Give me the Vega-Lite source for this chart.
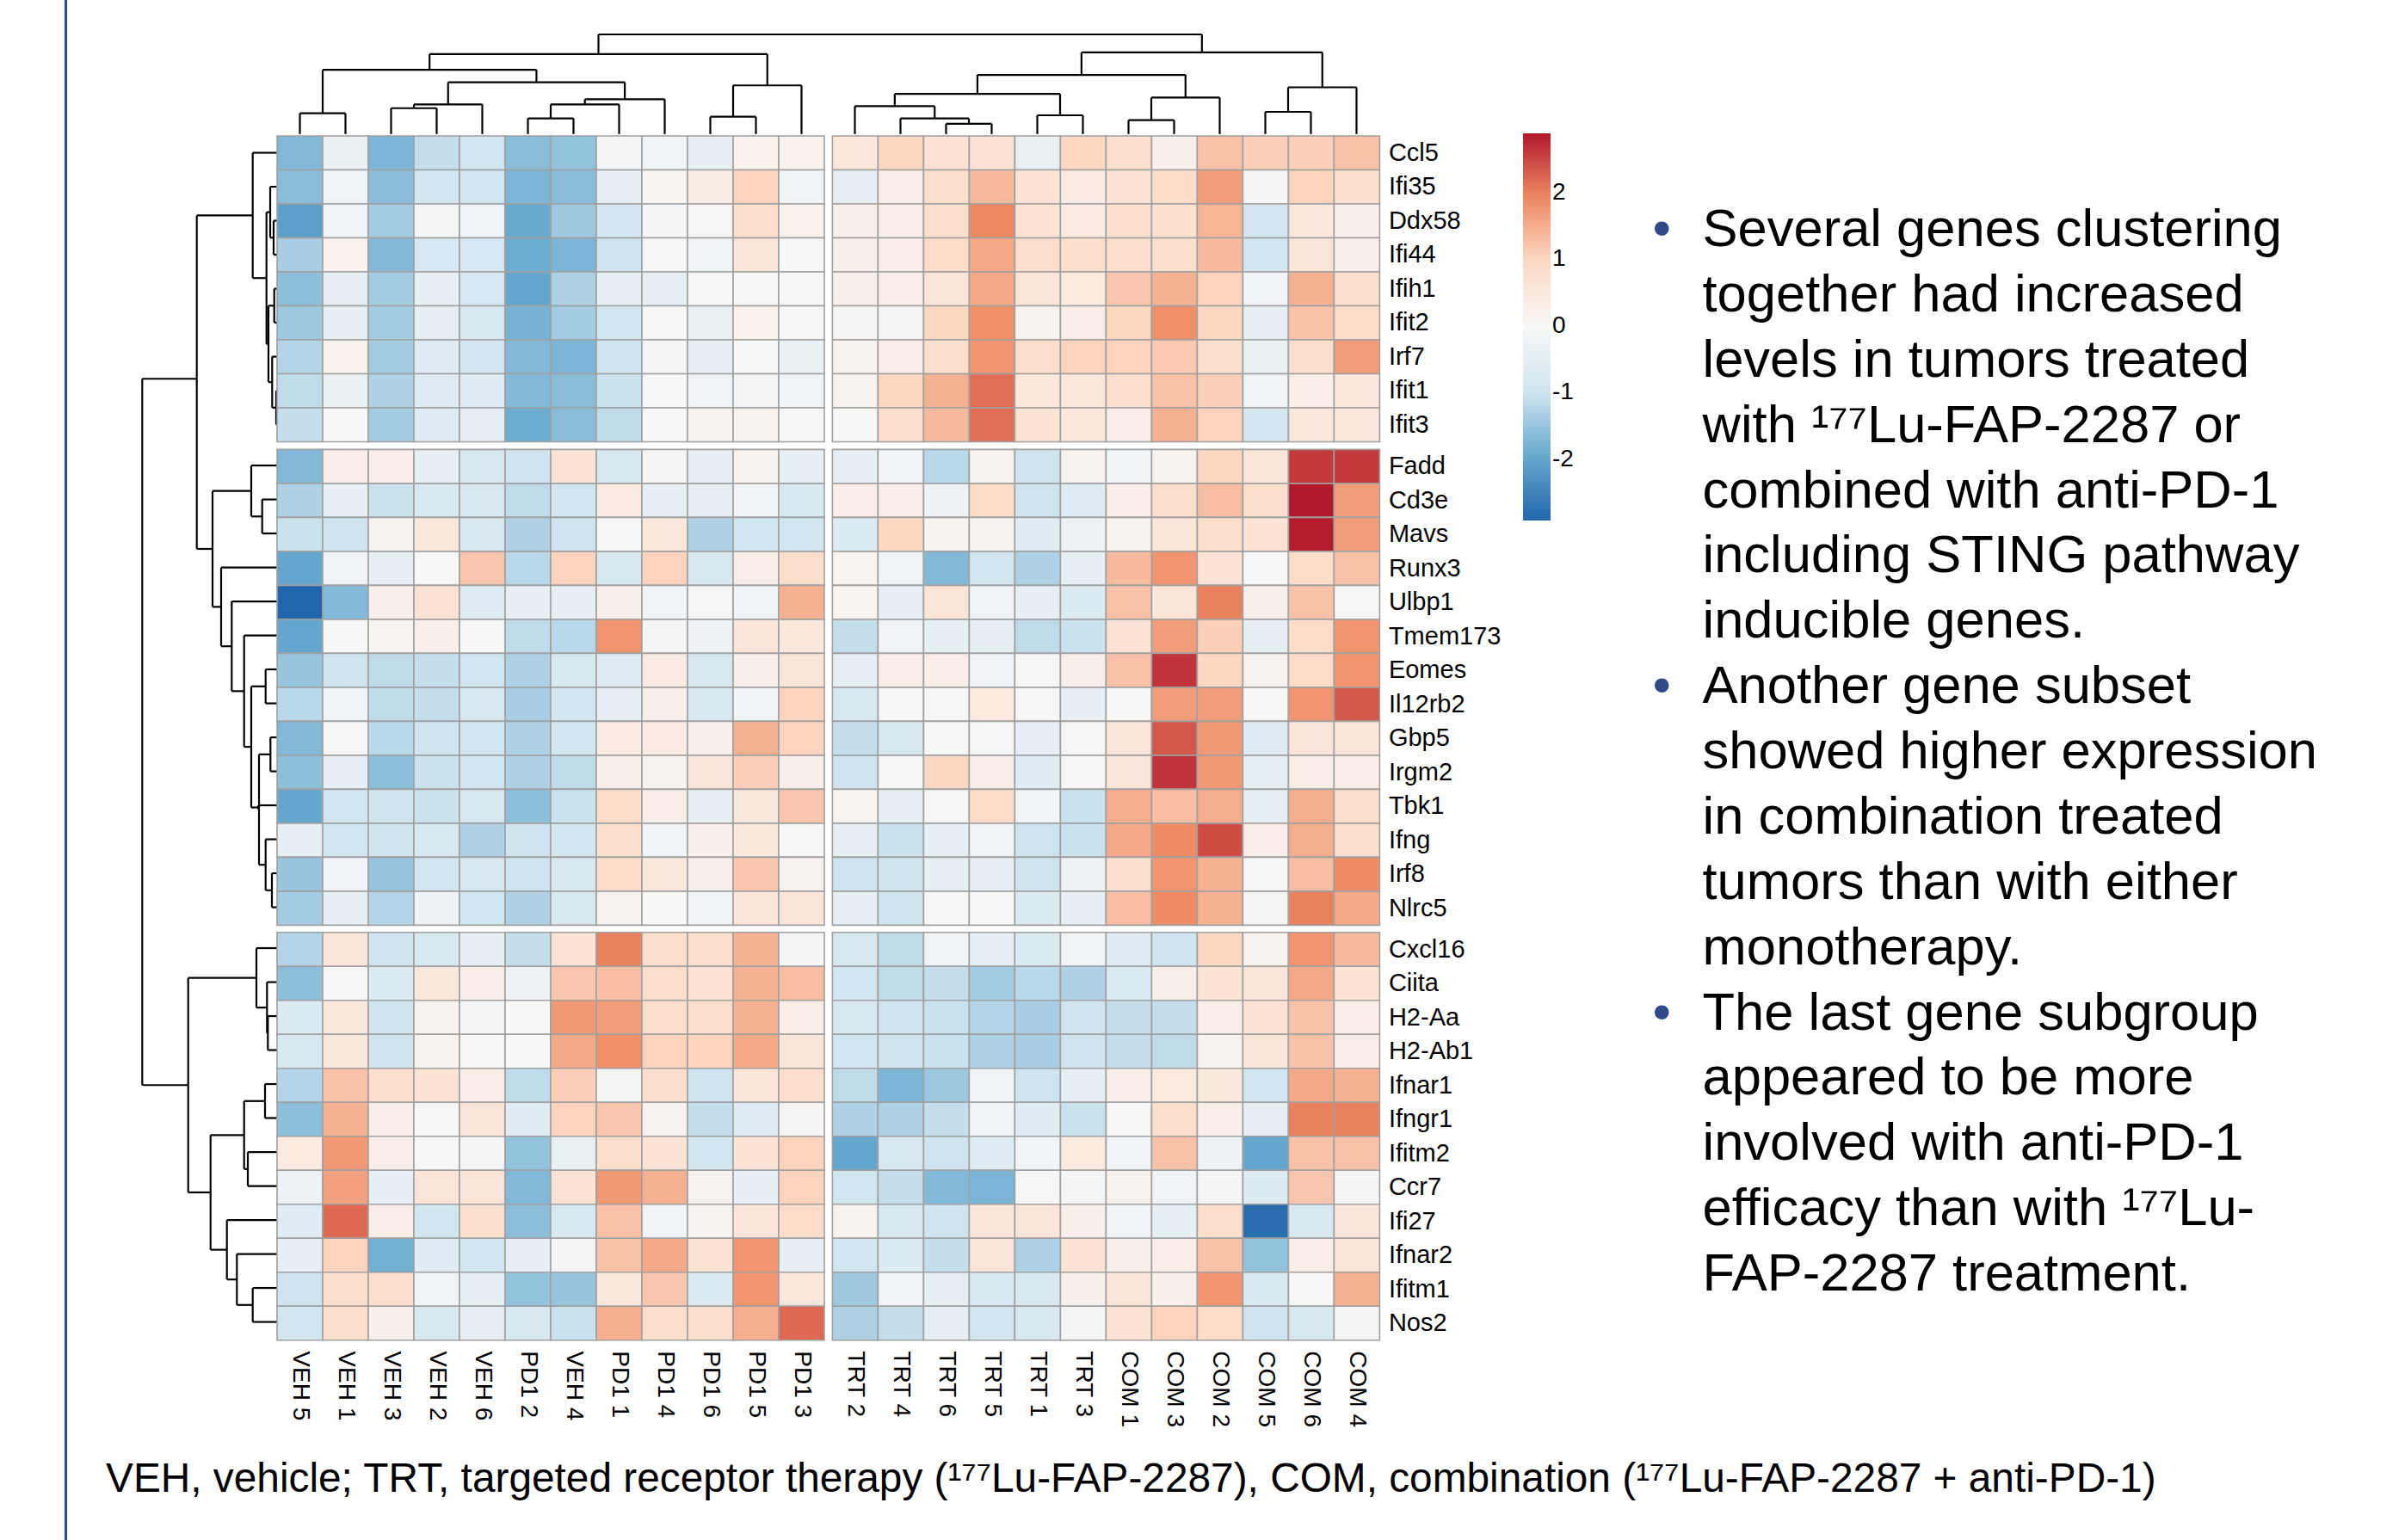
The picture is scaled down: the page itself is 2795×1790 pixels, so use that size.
{
"$schema": "https://vega.github.io/schema/vega-lite/v6.json",
"background": "white",
"padding": {"left": 75, "top": 0, "right": 0, "bottom": 0},
"bounds": "flush",
"spacing": 0,
"title": {"text": "VEH, vehicle; TRT, targeted receptor therapy (¹⁷⁷Lu-FAP-2287), COM, combination (¹⁷⁷Lu-FAP-2287 + anti-PD-1)", "orient": "bottom", "anchor": "start", "frame": "group", "offset": -56, "dx": 48, "fontSize": 47.8, "fontWeight": "normal", "font": "Liberation Sans", "color": "#000000", "baseline": "alphabetic"},
"config": {
  "view": {"stroke": null},
  "font": "Liberation Sans",
  "axis": {"labelFont": "Liberation Sans", "labelColor": "#000000", "ticks": false, "domain": false, "grid": false},
  "legend": {"orient": "none", "legendX": 1695, "legendY": 155, "direction": "vertical", "gradientLength": 450, "gradientThickness": 32, "gradientStrokeWidth": 0, "labelFontSize": 28, "labelFont": "Liberation Sans", "labelColor": "#000000", "labelOffset": 11, "padding": 0}
},
"datasets": {
"cells": [
{"g":"Ccl5","s":"VEH 5","v":-1.7},{"g":"Ccl5","s":"VEH 1","v":-0.4},{"g":"Ccl5","s":"VEH 3","v":-1.75},{"g":"Ccl5","s":"VEH 2","v":-1.1},{"g":"Ccl5","s":"VEH 6","v":-0.95},{"g":"Ccl5","s":"PD1 2","v":-1.65},{"g":"Ccl5","s":"VEH 4","v":-1.55},{"g":"Ccl5","s":"PD1 1","v":-0.1},{"g":"Ccl5","s":"PD1 4","v":-0.25},{"g":"Ccl5","s":"PD1 6","v":-0.45},{"g":"Ccl5","s":"PD1 5","v":0.2},{"g":"Ccl5","s":"PD1 3","v":0.2},
{"g":"Ccl5","s":"TRT 2","v":0.55},{"g":"Ccl5","s":"TRT 4","v":1.0},{"g":"Ccl5","s":"TRT 6","v":0.7},{"g":"Ccl5","s":"TRT 5","v":0.7},{"g":"Ccl5","s":"TRT 1","v":-0.4},{"g":"Ccl5","s":"TRT 3","v":1.0},{"g":"Ccl5","s":"COM 1","v":0.85},{"g":"Ccl5","s":"COM 3","v":0.25},{"g":"Ccl5","s":"COM 2","v":1.25},{"g":"Ccl5","s":"COM 5","v":1.1},{"g":"Ccl5","s":"COM 6","v":1.1},{"g":"Ccl5","s":"COM 4","v":1.25},
{"g":"Ifi35","s":"VEH 5","v":-1.65},{"g":"Ifi35","s":"VEH 1","v":-0.25},{"g":"Ifi35","s":"VEH 3","v":-1.65},{"g":"Ifi35","s":"VEH 2","v":-0.95},{"g":"Ifi35","s":"VEH 6","v":-0.95},{"g":"Ifi35","s":"PD1 2","v":-1.75},{"g":"Ifi35","s":"VEH 4","v":-1.65},{"g":"Ifi35","s":"PD1 1","v":-0.45},{"g":"Ifi35","s":"PD1 4","v":0.1},{"g":"Ifi35","s":"PD1 6","v":0.35},{"g":"Ifi35","s":"PD1 5","v":1.05},{"g":"Ifi35","s":"PD1 3","v":-0.2},
{"g":"Ifi35","s":"TRT 2","v":-0.5},{"g":"Ifi35","s":"TRT 4","v":0.3},{"g":"Ifi35","s":"TRT 6","v":0.85},{"g":"Ifi35","s":"TRT 5","v":1.35},{"g":"Ifi35","s":"TRT 1","v":0.65},{"g":"Ifi35","s":"TRT 3","v":0.4},{"g":"Ifi35","s":"COM 1","v":0.65},{"g":"Ifi35","s":"COM 3","v":0.9},{"g":"Ifi35","s":"COM 2","v":1.7},{"g":"Ifi35","s":"COM 5","v":-0.1},{"g":"Ifi35","s":"COM 6","v":1.05},{"g":"Ifi35","s":"COM 4","v":0.75},
{"g":"Ddx58","s":"VEH 5","v":-2.1},{"g":"Ddx58","s":"VEH 1","v":-0.25},{"g":"Ddx58","s":"VEH 3","v":-1.4},{"g":"Ddx58","s":"VEH 2","v":-0.1},{"g":"Ddx58","s":"VEH 6","v":-0.25},{"g":"Ddx58","s":"PD1 2","v":-1.95},{"g":"Ddx58","s":"VEH 4","v":-1.45},{"g":"Ddx58","s":"PD1 1","v":-0.9},{"g":"Ddx58","s":"PD1 4","v":-0.1},{"g":"Ddx58","s":"PD1 6","v":-0.05},{"g":"Ddx58","s":"PD1 5","v":0.85},{"g":"Ddx58","s":"PD1 3","v":0.2},
{"g":"Ddx58","s":"TRT 2","v":0.25},{"g":"Ddx58","s":"TRT 4","v":0.3},{"g":"Ddx58","s":"TRT 6","v":0.85},{"g":"Ddx58","s":"TRT 5","v":1.95},{"g":"Ddx58","s":"TRT 1","v":0.65},{"g":"Ddx58","s":"TRT 3","v":0.4},{"g":"Ddx58","s":"COM 1","v":0.75},{"g":"Ddx58","s":"COM 3","v":0.75},{"g":"Ddx58","s":"COM 2","v":1.4},{"g":"Ddx58","s":"COM 5","v":-0.9},{"g":"Ddx58","s":"COM 6","v":0.55},{"g":"Ddx58","s":"COM 4","v":0.25},
{"g":"Ifi44","s":"VEH 5","v":-1.35},{"g":"Ifi44","s":"VEH 1","v":0.2},{"g":"Ifi44","s":"VEH 3","v":-1.7},{"g":"Ifi44","s":"VEH 2","v":-0.85},{"g":"Ifi44","s":"VEH 6","v":-0.85},{"g":"Ifi44","s":"PD1 2","v":-1.9},{"g":"Ifi44","s":"VEH 4","v":-1.75},{"g":"Ifi44","s":"PD1 1","v":-1.0},{"g":"Ifi44","s":"PD1 4","v":-0.05},{"g":"Ifi44","s":"PD1 6","v":-0.25},{"g":"Ifi44","s":"PD1 5","v":0.6},{"g":"Ifi44","s":"PD1 3","v":0.0},
{"g":"Ifi44","s":"TRT 2","v":0.25},{"g":"Ifi44","s":"TRT 4","v":0.3},{"g":"Ifi44","s":"TRT 6","v":0.9},{"g":"Ifi44","s":"TRT 5","v":1.55},{"g":"Ifi44","s":"TRT 1","v":0.85},{"g":"Ifi44","s":"TRT 3","v":0.85},{"g":"Ifi44","s":"COM 1","v":0.85},{"g":"Ifi44","s":"COM 3","v":0.85},{"g":"Ifi44","s":"COM 2","v":1.35},{"g":"Ifi44","s":"COM 5","v":-0.95},{"g":"Ifi44","s":"COM 6","v":0.6},{"g":"Ifi44","s":"COM 4","v":0.25},
{"g":"Ifih1","s":"VEH 5","v":-1.6},{"g":"Ifih1","s":"VEH 1","v":-0.5},{"g":"Ifih1","s":"VEH 3","v":-1.4},{"g":"Ifih1","s":"VEH 2","v":-0.45},{"g":"Ifih1","s":"VEH 6","v":-0.85},{"g":"Ifih1","s":"PD1 2","v":-2.0},{"g":"Ifih1","s":"VEH 4","v":-1.3},{"g":"Ifih1","s":"PD1 1","v":-0.45},{"g":"Ifih1","s":"PD1 4","v":-0.5},{"g":"Ifih1","s":"PD1 6","v":-0.05},{"g":"Ifih1","s":"PD1 5","v":-0.05},{"g":"Ifih1","s":"PD1 3","v":-0.05},
{"g":"Ifih1","s":"TRT 2","v":0.25},{"g":"Ifih1","s":"TRT 4","v":0.3},{"g":"Ifih1","s":"TRT 6","v":0.6},{"g":"Ifih1","s":"TRT 5","v":1.55},{"g":"Ifih1","s":"TRT 1","v":0.6},{"g":"Ifih1","s":"TRT 3","v":0.45},{"g":"Ifih1","s":"COM 1","v":1.2},{"g":"Ifih1","s":"COM 3","v":1.45},{"g":"Ifih1","s":"COM 2","v":1.05},{"g":"Ifih1","s":"COM 5","v":-0.2},{"g":"Ifih1","s":"COM 6","v":1.45},{"g":"Ifih1","s":"COM 4","v":0.85},
{"g":"Ifit2","s":"VEH 5","v":-1.45},{"g":"Ifit2","s":"VEH 1","v":-0.45},{"g":"Ifit2","s":"VEH 3","v":-1.4},{"g":"Ifit2","s":"VEH 2","v":-0.5},{"g":"Ifit2","s":"VEH 6","v":-0.8},{"g":"Ifit2","s":"PD1 2","v":-1.8},{"g":"Ifit2","s":"VEH 4","v":-1.4},{"g":"Ifit2","s":"PD1 1","v":-0.95},{"g":"Ifit2","s":"PD1 4","v":-0.05},{"g":"Ifit2","s":"PD1 6","v":-0.4},{"g":"Ifit2","s":"PD1 5","v":0.2},{"g":"Ifit2","s":"PD1 3","v":-0.05},
{"g":"Ifit2","s":"TRT 2","v":0.05},{"g":"Ifit2","s":"TRT 4","v":0.05},{"g":"Ifit2","s":"TRT 6","v":1.0},{"g":"Ifit2","s":"TRT 5","v":1.85},{"g":"Ifit2","s":"TRT 1","v":0.15},{"g":"Ifit2","s":"TRT 3","v":0.3},{"g":"Ifit2","s":"COM 1","v":1.0},{"g":"Ifit2","s":"COM 3","v":1.85},{"g":"Ifit2","s":"COM 2","v":1.0},{"g":"Ifit2","s":"COM 5","v":-0.5},{"g":"Ifit2","s":"COM 6","v":1.25},{"g":"Ifit2","s":"COM 4","v":0.9},
{"g":"Irf7","s":"VEH 5","v":-1.25},{"g":"Irf7","s":"VEH 1","v":0.2},{"g":"Irf7","s":"VEH 3","v":-1.4},{"g":"Irf7","s":"VEH 2","v":-0.6},{"g":"Irf7","s":"VEH 6","v":-0.9},{"g":"Irf7","s":"PD1 2","v":-1.7},{"g":"Irf7","s":"VEH 4","v":-1.75},{"g":"Irf7","s":"PD1 1","v":-1.0},{"g":"Irf7","s":"PD1 4","v":-0.15},{"g":"Irf7","s":"PD1 6","v":-0.45},{"g":"Irf7","s":"PD1 5","v":-0.05},{"g":"Irf7","s":"PD1 3","v":-0.35},
{"g":"Irf7","s":"TRT 2","v":0.15},{"g":"Irf7","s":"TRT 4","v":0.3},{"g":"Irf7","s":"TRT 6","v":0.85},{"g":"Irf7","s":"TRT 5","v":1.8},{"g":"Irf7","s":"TRT 1","v":0.85},{"g":"Irf7","s":"TRT 3","v":1.05},{"g":"Irf7","s":"COM 1","v":1.05},{"g":"Irf7","s":"COM 3","v":1.15},{"g":"Irf7","s":"COM 2","v":0.85},{"g":"Irf7","s":"COM 5","v":-0.4},{"g":"Irf7","s":"COM 6","v":0.85},{"g":"Irf7","s":"COM 4","v":1.7},
{"g":"Ifit1","s":"VEH 5","v":-1.15},{"g":"Ifit1","s":"VEH 1","v":-0.35},{"g":"Ifit1","s":"VEH 3","v":-1.3},{"g":"Ifit1","s":"VEH 2","v":-0.6},{"g":"Ifit1","s":"VEH 6","v":-0.6},{"g":"Ifit1","s":"PD1 2","v":-1.7},{"g":"Ifit1","s":"VEH 4","v":-1.65},{"g":"Ifit1","s":"PD1 1","v":-1.05},{"g":"Ifit1","s":"PD1 4","v":-0.05},{"g":"Ifit1","s":"PD1 6","v":-0.25},{"g":"Ifit1","s":"PD1 5","v":-0.15},{"g":"Ifit1","s":"PD1 3","v":-0.2},
{"g":"Ifit1","s":"TRT 2","v":0.15},{"g":"Ifit1","s":"TRT 4","v":1.0},{"g":"Ifit1","s":"TRT 6","v":1.45},{"g":"Ifit1","s":"TRT 5","v":2.15},{"g":"Ifit1","s":"TRT 1","v":0.55},{"g":"Ifit1","s":"TRT 3","v":0.55},{"g":"Ifit1","s":"COM 1","v":0.75},{"g":"Ifit1","s":"COM 3","v":1.25},{"g":"Ifit1","s":"COM 2","v":1.1},{"g":"Ifit1","s":"COM 5","v":-0.2},{"g":"Ifit1","s":"COM 6","v":0.3},{"g":"Ifit1","s":"COM 4","v":0.55},
{"g":"Ifit3","s":"VEH 5","v":-1.1},{"g":"Ifit3","s":"VEH 1","v":0.0},{"g":"Ifit3","s":"VEH 3","v":-1.4},{"g":"Ifit3","s":"VEH 2","v":-0.6},{"g":"Ifit3","s":"VEH 6","v":-0.5},{"g":"Ifit3","s":"PD1 2","v":-1.9},{"g":"Ifit3","s":"VEH 4","v":-1.65},{"g":"Ifit3","s":"PD1 1","v":-1.15},{"g":"Ifit3","s":"PD1 4","v":-0.05},{"g":"Ifit3","s":"PD1 6","v":0.15},{"g":"Ifit3","s":"PD1 5","v":0.15},{"g":"Ifit3","s":"PD1 3","v":-0.05},
{"g":"Ifit3","s":"TRT 2","v":0.0},{"g":"Ifit3","s":"TRT 4","v":0.85},{"g":"Ifit3","s":"TRT 6","v":1.35},{"g":"Ifit3","s":"TRT 5","v":2.15},{"g":"Ifit3","s":"TRT 1","v":0.65},{"g":"Ifit3","s":"TRT 3","v":0.55},{"g":"Ifit3","s":"COM 1","v":0.3},{"g":"Ifit3","s":"COM 3","v":1.45},{"g":"Ifit3","s":"COM 2","v":1.05},{"g":"Ifit3","s":"COM 5","v":-0.9},{"g":"Ifit3","s":"COM 6","v":0.55},{"g":"Ifit3","s":"COM 4","v":0.55},
{"g":"Fadd","s":"VEH 5","v":-1.7},{"g":"Fadd","s":"VEH 1","v":0.3},{"g":"Fadd","s":"VEH 3","v":0.3},{"g":"Fadd","s":"VEH 2","v":-0.45},{"g":"Fadd","s":"VEH 6","v":-0.8},{"g":"Fadd","s":"PD1 2","v":-1.0},{"g":"Fadd","s":"VEH 4","v":0.65},{"g":"Fadd","s":"PD1 1","v":-0.8},{"g":"Fadd","s":"PD1 4","v":0.05},{"g":"Fadd","s":"PD1 6","v":-0.5},{"g":"Fadd","s":"PD1 5","v":0.15},{"g":"Fadd","s":"PD1 3","v":-0.45},
{"g":"Fadd","s":"TRT 2","v":-0.45},{"g":"Fadd","s":"TRT 4","v":-0.2},{"g":"Fadd","s":"TRT 6","v":-1.2},{"g":"Fadd","s":"TRT 5","v":0.15},{"g":"Fadd","s":"TRT 1","v":-1.0},{"g":"Fadd","s":"TRT 3","v":0.15},{"g":"Fadd","s":"COM 1","v":-0.2},{"g":"Fadd","s":"COM 3","v":0.15},{"g":"Fadd","s":"COM 2","v":1.0},{"g":"Fadd","s":"COM 5","v":0.6},{"g":"Fadd","s":"COM 6","v":2.6},{"g":"Fadd","s":"COM 4","v":2.6},
{"g":"Cd3e","s":"VEH 5","v":-1.3},{"g":"Cd3e","s":"VEH 1","v":-0.45},{"g":"Cd3e","s":"VEH 3","v":-1.05},{"g":"Cd3e","s":"VEH 2","v":-0.8},{"g":"Cd3e","s":"VEH 6","v":-0.8},{"g":"Cd3e","s":"PD1 2","v":-1.15},{"g":"Cd3e","s":"VEH 4","v":-0.95},{"g":"Cd3e","s":"PD1 1","v":0.4},{"g":"Cd3e","s":"PD1 4","v":-0.45},{"g":"Cd3e","s":"PD1 6","v":-0.5},{"g":"Cd3e","s":"PD1 5","v":-0.2},{"g":"Cd3e","s":"PD1 3","v":-0.8},
{"g":"Cd3e","s":"TRT 2","v":0.3},{"g":"Cd3e","s":"TRT 4","v":0.3},{"g":"Cd3e","s":"TRT 6","v":-0.3},{"g":"Cd3e","s":"TRT 5","v":0.9},{"g":"Cd3e","s":"TRT 1","v":-1.0},{"g":"Cd3e","s":"TRT 3","v":-0.6},{"g":"Cd3e","s":"COM 1","v":0.3},{"g":"Cd3e","s":"COM 3","v":0.85},{"g":"Cd3e","s":"COM 2","v":1.3},{"g":"Cd3e","s":"COM 5","v":0.85},{"g":"Cd3e","s":"COM 6","v":2.88},{"g":"Cd3e","s":"COM 4","v":1.7},
{"g":"Mavs","s":"VEH 5","v":-1.05},{"g":"Mavs","s":"VEH 1","v":-1.0},{"g":"Mavs","s":"VEH 3","v":0.15},{"g":"Mavs","s":"VEH 2","v":0.5},{"g":"Mavs","s":"VEH 6","v":-0.8},{"g":"Mavs","s":"PD1 2","v":-1.3},{"g":"Mavs","s":"VEH 4","v":-1.0},{"g":"Mavs","s":"PD1 1","v":-0.05},{"g":"Mavs","s":"PD1 4","v":0.5},{"g":"Mavs","s":"PD1 6","v":-1.3},{"g":"Mavs","s":"PD1 5","v":-0.95},{"g":"Mavs","s":"PD1 3","v":-0.95},
{"g":"Mavs","s":"TRT 2","v":-0.7},{"g":"Mavs","s":"TRT 4","v":1.0},{"g":"Mavs","s":"TRT 6","v":0.15},{"g":"Mavs","s":"TRT 5","v":0.15},{"g":"Mavs","s":"TRT 1","v":-0.6},{"g":"Mavs","s":"TRT 3","v":-0.3},{"g":"Mavs","s":"COM 1","v":0.15},{"g":"Mavs","s":"COM 3","v":0.6},{"g":"Mavs","s":"COM 2","v":0.85},{"g":"Mavs","s":"COM 5","v":0.65},{"g":"Mavs","s":"COM 6","v":2.85},{"g":"Mavs","s":"COM 4","v":1.7},
{"g":"Runx3","s":"VEH 5","v":-2.0},{"g":"Runx3","s":"VEH 1","v":-0.2},{"g":"Runx3","s":"VEH 3","v":-0.45},{"g":"Runx3","s":"VEH 2","v":0.0},{"g":"Runx3","s":"VEH 6","v":1.2},{"g":"Runx3","s":"PD1 2","v":-1.2},{"g":"Runx3","s":"VEH 4","v":1.05},{"g":"Runx3","s":"PD1 1","v":-0.8},{"g":"Runx3","s":"PD1 4","v":1.05},{"g":"Runx3","s":"PD1 6","v":-0.8},{"g":"Runx3","s":"PD1 5","v":0.3},{"g":"Runx3","s":"PD1 3","v":0.85},
{"g":"Runx3","s":"TRT 2","v":0.1},{"g":"Runx3","s":"TRT 4","v":-0.2},{"g":"Runx3","s":"TRT 6","v":-1.7},{"g":"Runx3","s":"TRT 5","v":-0.95},{"g":"Runx3","s":"TRT 1","v":-1.3},{"g":"Runx3","s":"TRT 3","v":-0.45},{"g":"Runx3","s":"COM 1","v":1.35},{"g":"Runx3","s":"COM 3","v":1.8},{"g":"Runx3","s":"COM 2","v":0.65},{"g":"Runx3","s":"COM 5","v":-0.05},{"g":"Runx3","s":"COM 6","v":0.9},{"g":"Runx3","s":"COM 4","v":1.25},
{"g":"Ulbp1","s":"VEH 5","v":-2.92},{"g":"Ulbp1","s":"VEH 1","v":-1.7},{"g":"Ulbp1","s":"VEH 3","v":0.25},{"g":"Ulbp1","s":"VEH 2","v":0.7},{"g":"Ulbp1","s":"VEH 6","v":-0.6},{"g":"Ulbp1","s":"PD1 2","v":-0.45},{"g":"Ulbp1","s":"VEH 4","v":-0.45},{"g":"Ulbp1","s":"PD1 1","v":0.25},{"g":"Ulbp1","s":"PD1 4","v":-0.2},{"g":"Ulbp1","s":"PD1 6","v":-0.05},{"g":"Ulbp1","s":"PD1 5","v":-0.2},{"g":"Ulbp1","s":"PD1 3","v":1.45},
{"g":"Ulbp1","s":"TRT 2","v":0.1},{"g":"Ulbp1","s":"TRT 4","v":-0.45},{"g":"Ulbp1","s":"TRT 6","v":0.6},{"g":"Ulbp1","s":"TRT 5","v":-0.2},{"g":"Ulbp1","s":"TRT 1","v":-0.45},{"g":"Ulbp1","s":"TRT 3","v":-0.7},{"g":"Ulbp1","s":"COM 1","v":1.25},{"g":"Ulbp1","s":"COM 3","v":0.6},{"g":"Ulbp1","s":"COM 2","v":2.0},{"g":"Ulbp1","s":"COM 5","v":0.25},{"g":"Ulbp1","s":"COM 6","v":1.25},{"g":"Ulbp1","s":"COM 4","v":-0.05},
{"g":"Tmem173","s":"VEH 5","v":-2.0},{"g":"Tmem173","s":"VEH 1","v":0.0},{"g":"Tmem173","s":"VEH 3","v":0.1},{"g":"Tmem173","s":"VEH 2","v":0.25},{"g":"Tmem173","s":"VEH 6","v":0.0},{"g":"Tmem173","s":"PD1 2","v":-1.15},{"g":"Tmem173","s":"VEH 4","v":-1.2},{"g":"Tmem173","s":"PD1 1","v":1.8},{"g":"Tmem173","s":"PD1 4","v":0.05},{"g":"Tmem173","s":"PD1 6","v":-0.3},{"g":"Tmem173","s":"PD1 5","v":0.6},{"g":"Tmem173","s":"PD1 3","v":0.55},
{"g":"Tmem173","s":"TRT 2","v":-1.1},{"g":"Tmem173","s":"TRT 4","v":-0.2},{"g":"Tmem173","s":"TRT 6","v":-0.45},{"g":"Tmem173","s":"TRT 5","v":-0.45},{"g":"Tmem173","s":"TRT 1","v":-1.15},{"g":"Tmem173","s":"TRT 3","v":-1.05},{"g":"Tmem173","s":"COM 1","v":0.65},{"g":"Tmem173","s":"COM 3","v":1.7},{"g":"Tmem173","s":"COM 2","v":1.1},{"g":"Tmem173","s":"COM 5","v":-0.45},{"g":"Tmem173","s":"COM 6","v":0.9},{"g":"Tmem173","s":"COM 4","v":1.8},
{"g":"Eomes","s":"VEH 5","v":-1.5},{"g":"Eomes","s":"VEH 1","v":-1.0},{"g":"Eomes","s":"VEH 3","v":-1.15},{"g":"Eomes","s":"VEH 2","v":-1.1},{"g":"Eomes","s":"VEH 6","v":-0.95},{"g":"Eomes","s":"PD1 2","v":-1.3},{"g":"Eomes","s":"VEH 4","v":-0.8},{"g":"Eomes","s":"PD1 1","v":-0.6},{"g":"Eomes","s":"PD1 4","v":0.4},{"g":"Eomes","s":"PD1 6","v":-0.8},{"g":"Eomes","s":"PD1 5","v":0.25},{"g":"Eomes","s":"PD1 3","v":0.6},
{"g":"Eomes","s":"TRT 2","v":-0.45},{"g":"Eomes","s":"TRT 4","v":0.3},{"g":"Eomes","s":"TRT 6","v":0.3},{"g":"Eomes","s":"TRT 5","v":-0.2},{"g":"Eomes","s":"TRT 1","v":-0.05},{"g":"Eomes","s":"TRT 3","v":0.25},{"g":"Eomes","s":"COM 1","v":1.25},{"g":"Eomes","s":"COM 3","v":2.65},{"g":"Eomes","s":"COM 2","v":1.0},{"g":"Eomes","s":"COM 5","v":0.15},{"g":"Eomes","s":"COM 6","v":0.9},{"g":"Eomes","s":"COM 4","v":1.8},
{"g":"Il12rb2","s":"VEH 5","v":-1.2},{"g":"Il12rb2","s":"VEH 1","v":-0.2},{"g":"Il12rb2","s":"VEH 3","v":-1.15},{"g":"Il12rb2","s":"VEH 2","v":-1.1},{"g":"Il12rb2","s":"VEH 6","v":-0.8},{"g":"Il12rb2","s":"PD1 2","v":-1.35},{"g":"Il12rb2","s":"VEH 4","v":-0.95},{"g":"Il12rb2","s":"PD1 1","v":-0.45},{"g":"Il12rb2","s":"PD1 4","v":0.25},{"g":"Il12rb2","s":"PD1 6","v":-0.8},{"g":"Il12rb2","s":"PD1 5","v":-0.2},{"g":"Il12rb2","s":"PD1 3","v":1.05},
{"g":"Il12rb2","s":"TRT 2","v":-0.8},{"g":"Il12rb2","s":"TRT 4","v":-0.05},{"g":"Il12rb2","s":"TRT 6","v":-0.05},{"g":"Il12rb2","s":"TRT 5","v":0.45},{"g":"Il12rb2","s":"TRT 1","v":-0.05},{"g":"Il12rb2","s":"TRT 3","v":-0.45},{"g":"Il12rb2","s":"COM 1","v":0.0},{"g":"Il12rb2","s":"COM 3","v":1.7},{"g":"Il12rb2","s":"COM 2","v":1.7},{"g":"Il12rb2","s":"COM 5","v":-0.05},{"g":"Il12rb2","s":"COM 6","v":1.8},{"g":"Il12rb2","s":"COM 4","v":2.35},
{"g":"Gbp5","s":"VEH 5","v":-1.7},{"g":"Gbp5","s":"VEH 1","v":-0.05},{"g":"Gbp5","s":"VEH 3","v":-1.2},{"g":"Gbp5","s":"VEH 2","v":-1.0},{"g":"Gbp5","s":"VEH 6","v":-0.95},{"g":"Gbp5","s":"PD1 2","v":-1.3},{"g":"Gbp5","s":"VEH 4","v":-0.95},{"g":"Gbp5","s":"PD1 1","v":0.4},{"g":"Gbp5","s":"PD1 4","v":0.4},{"g":"Gbp5","s":"PD1 6","v":0.25},{"g":"Gbp5","s":"PD1 5","v":1.45},{"g":"Gbp5","s":"PD1 3","v":1.05},
{"g":"Gbp5","s":"TRT 2","v":-1.1},{"g":"Gbp5","s":"TRT 4","v":-0.8},{"g":"Gbp5","s":"TRT 6","v":-0.05},{"g":"Gbp5","s":"TRT 5","v":-0.05},{"g":"Gbp5","s":"TRT 1","v":-0.45},{"g":"Gbp5","s":"TRT 3","v":-0.05},{"g":"Gbp5","s":"COM 1","v":0.6},{"g":"Gbp5","s":"COM 3","v":2.35},{"g":"Gbp5","s":"COM 2","v":1.75},{"g":"Gbp5","s":"COM 5","v":-0.6},{"g":"Gbp5","s":"COM 6","v":0.6},{"g":"Gbp5","s":"COM 4","v":0.6},
{"g":"Irgm2","s":"VEH 5","v":-1.6},{"g":"Irgm2","s":"VEH 1","v":-0.45},{"g":"Irgm2","s":"VEH 3","v":-1.6},{"g":"Irgm2","s":"VEH 2","v":-1.05},{"g":"Irgm2","s":"VEH 6","v":-0.95},{"g":"Irgm2","s":"PD1 2","v":-1.3},{"g":"Irgm2","s":"VEH 4","v":-1.15},{"g":"Irgm2","s":"PD1 1","v":0.25},{"g":"Irgm2","s":"PD1 4","v":0.15},{"g":"Irgm2","s":"PD1 6","v":0.6},{"g":"Irgm2","s":"PD1 5","v":1.1},{"g":"Irgm2","s":"PD1 3","v":0.25},
{"g":"Irgm2","s":"TRT 2","v":-1.0},{"g":"Irgm2","s":"TRT 4","v":-0.05},{"g":"Irgm2","s":"TRT 6","v":1.0},{"g":"Irgm2","s":"TRT 5","v":0.3},{"g":"Irgm2","s":"TRT 1","v":-0.6},{"g":"Irgm2","s":"TRT 3","v":-0.05},{"g":"Irgm2","s":"COM 1","v":0.6},{"g":"Irgm2","s":"COM 3","v":2.65},{"g":"Irgm2","s":"COM 2","v":1.75},{"g":"Irgm2","s":"COM 5","v":-0.45},{"g":"Irgm2","s":"COM 6","v":0.3},{"g":"Irgm2","s":"COM 4","v":0.3},
{"g":"Tbk1","s":"VEH 5","v":-2.0},{"g":"Tbk1","s":"VEH 1","v":-0.95},{"g":"Tbk1","s":"VEH 3","v":-1.0},{"g":"Tbk1","s":"VEH 2","v":-1.05},{"g":"Tbk1","s":"VEH 6","v":-0.8},{"g":"Tbk1","s":"PD1 2","v":-1.6},{"g":"Tbk1","s":"VEH 4","v":-1.05},{"g":"Tbk1","s":"PD1 1","v":0.9},{"g":"Tbk1","s":"PD1 4","v":0.3},{"g":"Tbk1","s":"PD1 6","v":-0.45},{"g":"Tbk1","s":"PD1 5","v":0.5},{"g":"Tbk1","s":"PD1 3","v":1.2},
{"g":"Tbk1","s":"TRT 2","v":0.1},{"g":"Tbk1","s":"TRT 4","v":-0.45},{"g":"Tbk1","s":"TRT 6","v":-0.05},{"g":"Tbk1","s":"TRT 5","v":0.9},{"g":"Tbk1","s":"TRT 1","v":-0.2},{"g":"Tbk1","s":"TRT 3","v":-1.05},{"g":"Tbk1","s":"COM 1","v":1.5},{"g":"Tbk1","s":"COM 3","v":1.3},{"g":"Tbk1","s":"COM 2","v":1.5},{"g":"Tbk1","s":"COM 5","v":-0.45},{"g":"Tbk1","s":"COM 6","v":1.5},{"g":"Tbk1","s":"COM 4","v":0.85},
{"g":"Ifng","s":"VEH 5","v":-0.45},{"g":"Ifng","s":"VEH 1","v":-0.95},{"g":"Ifng","s":"VEH 3","v":-1.0},{"g":"Ifng","s":"VEH 2","v":-0.8},{"g":"Ifng","s":"VEH 6","v":-1.3},{"g":"Ifng","s":"PD1 2","v":-1.0},{"g":"Ifng","s":"VEH 4","v":-0.95},{"g":"Ifng","s":"PD1 1","v":0.75},{"g":"Ifng","s":"PD1 4","v":-0.2},{"g":"Ifng","s":"PD1 6","v":0.25},{"g":"Ifng","s":"PD1 5","v":0.5},{"g":"Ifng","s":"PD1 3","v":-0.05},
{"g":"Ifng","s":"TRT 2","v":-0.45},{"g":"Ifng","s":"TRT 4","v":-1.05},{"g":"Ifng","s":"TRT 6","v":-0.45},{"g":"Ifng","s":"TRT 5","v":-0.2},{"g":"Ifng","s":"TRT 1","v":-1.0},{"g":"Ifng","s":"TRT 3","v":-1.05},{"g":"Ifng","s":"COM 1","v":1.55},{"g":"Ifng","s":"COM 3","v":1.9},{"g":"Ifng","s":"COM 2","v":2.45},{"g":"Ifng","s":"COM 5","v":0.3},{"g":"Ifng","s":"COM 6","v":1.5},{"g":"Ifng","s":"COM 4","v":0.85},
{"g":"Irf8","s":"VEH 5","v":-1.5},{"g":"Irf8","s":"VEH 1","v":-0.2},{"g":"Irf8","s":"VEH 3","v":-1.5},{"g":"Irf8","s":"VEH 2","v":-0.95},{"g":"Irf8","s":"VEH 6","v":-0.8},{"g":"Irf8","s":"PD1 2","v":-1.0},{"g":"Irf8","s":"VEH 4","v":-0.8},{"g":"Irf8","s":"PD1 1","v":0.9},{"g":"Irf8","s":"PD1 4","v":0.5},{"g":"Irf8","s":"PD1 6","v":0.25},{"g":"Irf8","s":"PD1 5","v":1.2},{"g":"Irf8","s":"PD1 3","v":0.15},
{"g":"Irf8","s":"TRT 2","v":-1.0},{"g":"Irf8","s":"TRT 4","v":-1.0},{"g":"Irf8","s":"TRT 6","v":-0.45},{"g":"Irf8","s":"TRT 5","v":-0.45},{"g":"Irf8","s":"TRT 1","v":-1.0},{"g":"Irf8","s":"TRT 3","v":-0.3},{"g":"Irf8","s":"COM 1","v":0.8},{"g":"Irf8","s":"COM 3","v":1.8},{"g":"Irf8","s":"COM 2","v":1.45},{"g":"Irf8","s":"COM 5","v":-0.05},{"g":"Irf8","s":"COM 6","v":1.3},{"g":"Irf8","s":"COM 4","v":1.9},
{"g":"Nlrc5","s":"VEH 5","v":-1.4},{"g":"Nlrc5","s":"VEH 1","v":-0.45},{"g":"Nlrc5","s":"VEH 3","v":-1.25},{"g":"Nlrc5","s":"VEH 2","v":-0.3},{"g":"Nlrc5","s":"VEH 6","v":-0.95},{"g":"Nlrc5","s":"PD1 2","v":-1.3},{"g":"Nlrc5","s":"VEH 4","v":-0.8},{"g":"Nlrc5","s":"PD1 1","v":0.15},{"g":"Nlrc5","s":"PD1 4","v":0.0},{"g":"Nlrc5","s":"PD1 6","v":-0.2},{"g":"Nlrc5","s":"PD1 5","v":0.6},{"g":"Nlrc5","s":"PD1 3","v":0.6},
{"g":"Nlrc5","s":"TRT 2","v":-0.45},{"g":"Nlrc5","s":"TRT 4","v":-1.0},{"g":"Nlrc5","s":"TRT 6","v":-0.05},{"g":"Nlrc5","s":"TRT 5","v":0.0},{"g":"Nlrc5","s":"TRT 1","v":-0.7},{"g":"Nlrc5","s":"TRT 3","v":-0.45},{"g":"Nlrc5","s":"COM 1","v":1.3},{"g":"Nlrc5","s":"COM 3","v":1.9},{"g":"Nlrc5","s":"COM 2","v":1.45},{"g":"Nlrc5","s":"COM 5","v":0.05},{"g":"Nlrc5","s":"COM 6","v":2.0},{"g":"Nlrc5","s":"COM 4","v":1.55},
{"g":"Cxcl16","s":"VEH 5","v":-1.25},{"g":"Cxcl16","s":"VEH 1","v":0.6},{"g":"Cxcl16","s":"VEH 3","v":-1.0},{"g":"Cxcl16","s":"VEH 2","v":-0.8},{"g":"Cxcl16","s":"VEH 6","v":-0.45},{"g":"Cxcl16","s":"PD1 2","v":-1.1},{"g":"Cxcl16","s":"VEH 4","v":0.65},{"g":"Cxcl16","s":"PD1 1","v":2.0},{"g":"Cxcl16","s":"PD1 4","v":0.85},{"g":"Cxcl16","s":"PD1 6","v":0.85},{"g":"Cxcl16","s":"PD1 5","v":1.45},{"g":"Cxcl16","s":"PD1 3","v":0.05},
{"g":"Cxcl16","s":"TRT 2","v":-0.8},{"g":"Cxcl16","s":"TRT 4","v":-1.15},{"g":"Cxcl16","s":"TRT 6","v":-0.2},{"g":"Cxcl16","s":"TRT 5","v":-0.45},{"g":"Cxcl16","s":"TRT 1","v":-0.7},{"g":"Cxcl16","s":"TRT 3","v":-0.2},{"g":"Cxcl16","s":"COM 1","v":-0.6},{"g":"Cxcl16","s":"COM 3","v":-1.0},{"g":"Cxcl16","s":"COM 2","v":1.0},{"g":"Cxcl16","s":"COM 5","v":0.15},{"g":"Cxcl16","s":"COM 6","v":1.8},{"g":"Cxcl16","s":"COM 4","v":1.35},
{"g":"Ciita","s":"VEH 5","v":-1.6},{"g":"Ciita","s":"VEH 1","v":-0.05},{"g":"Ciita","s":"VEH 3","v":-0.7},{"g":"Ciita","s":"VEH 2","v":0.5},{"g":"Ciita","s":"VEH 6","v":0.3},{"g":"Ciita","s":"PD1 2","v":-0.3},{"g":"Ciita","s":"VEH 4","v":1.2},{"g":"Ciita","s":"PD1 1","v":1.3},{"g":"Ciita","s":"PD1 4","v":0.85},{"g":"Ciita","s":"PD1 6","v":0.65},{"g":"Ciita","s":"PD1 5","v":1.45},{"g":"Ciita","s":"PD1 3","v":1.3},
{"g":"Ciita","s":"TRT 2","v":-0.95},{"g":"Ciita","s":"TRT 4","v":-1.15},{"g":"Ciita","s":"TRT 6","v":-1.1},{"g":"Ciita","s":"TRT 5","v":-1.4},{"g":"Ciita","s":"TRT 1","v":-1.2},{"g":"Ciita","s":"TRT 3","v":-1.3},{"g":"Ciita","s":"COM 1","v":-0.7},{"g":"Ciita","s":"COM 3","v":0.25},{"g":"Ciita","s":"COM 2","v":0.65},{"g":"Ciita","s":"COM 5","v":0.6},{"g":"Ciita","s":"COM 6","v":1.55},{"g":"Ciita","s":"COM 4","v":0.65},
{"g":"H2-Aa","s":"VEH 5","v":-0.7},{"g":"H2-Aa","s":"VEH 1","v":0.5},{"g":"H2-Aa","s":"VEH 3","v":-1.0},{"g":"H2-Aa","s":"VEH 2","v":0.15},{"g":"H2-Aa","s":"VEH 6","v":-0.1},{"g":"H2-Aa","s":"PD1 2","v":0.0},{"g":"H2-Aa","s":"VEH 4","v":1.75},{"g":"H2-Aa","s":"PD1 1","v":1.7},{"g":"H2-Aa","s":"PD1 4","v":0.85},{"g":"H2-Aa","s":"PD1 6","v":0.85},{"g":"H2-Aa","s":"PD1 5","v":1.45},{"g":"H2-Aa","s":"PD1 3","v":0.3},
{"g":"H2-Aa","s":"TRT 2","v":-0.8},{"g":"H2-Aa","s":"TRT 4","v":-1.0},{"g":"H2-Aa","s":"TRT 6","v":-1.05},{"g":"H2-Aa","s":"TRT 5","v":-1.25},{"g":"H2-Aa","s":"TRT 1","v":-1.35},{"g":"H2-Aa","s":"TRT 3","v":-1.0},{"g":"H2-Aa","s":"COM 1","v":-1.1},{"g":"H2-Aa","s":"COM 3","v":-1.1},{"g":"H2-Aa","s":"COM 2","v":0.3},{"g":"H2-Aa","s":"COM 5","v":0.65},{"g":"H2-Aa","s":"COM 6","v":1.25},{"g":"H2-Aa","s":"COM 4","v":0.3},
{"g":"H2-Ab1","s":"VEH 5","v":-0.8},{"g":"H2-Ab1","s":"VEH 1","v":0.5},{"g":"H2-Ab1","s":"VEH 3","v":-1.0},{"g":"H2-Ab1","s":"VEH 2","v":0.15},{"g":"H2-Ab1","s":"VEH 6","v":-0.05},{"g":"H2-Ab1","s":"PD1 2","v":0.0},{"g":"H2-Ab1","s":"VEH 4","v":1.55},{"g":"H2-Ab1","s":"PD1 1","v":1.85},{"g":"H2-Ab1","s":"PD1 4","v":1.05},{"g":"H2-Ab1","s":"PD1 6","v":1.05},{"g":"H2-Ab1","s":"PD1 5","v":1.55},{"g":"H2-Ab1","s":"PD1 3","v":0.6},
{"g":"H2-Ab1","s":"TRT 2","v":-0.95},{"g":"H2-Ab1","s":"TRT 4","v":-1.0},{"g":"H2-Ab1","s":"TRT 6","v":-1.05},{"g":"H2-Ab1","s":"TRT 5","v":-1.3},{"g":"H2-Ab1","s":"TRT 1","v":-1.35},{"g":"H2-Ab1","s":"TRT 3","v":-1.0},{"g":"H2-Ab1","s":"COM 1","v":-1.1},{"g":"H2-Ab1","s":"COM 3","v":-1.15},{"g":"H2-Ab1","s":"COM 2","v":0.15},{"g":"H2-Ab1","s":"COM 5","v":0.6},{"g":"H2-Ab1","s":"COM 6","v":1.25},{"g":"H2-Ab1","s":"COM 4","v":0.3},
{"g":"Ifnar1","s":"VEH 5","v":-1.25},{"g":"Ifnar1","s":"VEH 1","v":1.25},{"g":"Ifnar1","s":"VEH 3","v":0.85},{"g":"Ifnar1","s":"VEH 2","v":0.65},{"g":"Ifnar1","s":"VEH 6","v":0.3},{"g":"Ifnar1","s":"PD1 2","v":-1.15},{"g":"Ifnar1","s":"VEH 4","v":1.1},{"g":"Ifnar1","s":"PD1 1","v":0.05},{"g":"Ifnar1","s":"PD1 4","v":0.85},{"g":"Ifnar1","s":"PD1 6","v":-1.0},{"g":"Ifnar1","s":"PD1 5","v":0.6},{"g":"Ifnar1","s":"PD1 3","v":0.85},
{"g":"Ifnar1","s":"TRT 2","v":-1.15},{"g":"Ifnar1","s":"TRT 4","v":-1.75},{"g":"Ifnar1","s":"TRT 6","v":-1.45},{"g":"Ifnar1","s":"TRT 5","v":-0.2},{"g":"Ifnar1","s":"TRT 1","v":-1.0},{"g":"Ifnar1","s":"TRT 3","v":-0.45},{"g":"Ifnar1","s":"COM 1","v":0.3},{"g":"Ifnar1","s":"COM 3","v":0.45},{"g":"Ifnar1","s":"COM 2","v":0.5},{"g":"Ifnar1","s":"COM 5","v":-0.95},{"g":"Ifnar1","s":"COM 6","v":1.55},{"g":"Ifnar1","s":"COM 4","v":1.45},
{"g":"Ifngr1","s":"VEH 5","v":-1.6},{"g":"Ifngr1","s":"VEH 1","v":1.45},{"g":"Ifngr1","s":"VEH 3","v":0.3},{"g":"Ifngr1","s":"VEH 2","v":-0.05},{"g":"Ifngr1","s":"VEH 6","v":0.6},{"g":"Ifngr1","s":"PD1 2","v":-0.6},{"g":"Ifngr1","s":"VEH 4","v":1.05},{"g":"Ifngr1","s":"PD1 1","v":1.2},{"g":"Ifngr1","s":"PD1 4","v":0.15},{"g":"Ifngr1","s":"PD1 6","v":-1.1},{"g":"Ifngr1","s":"PD1 5","v":-0.6},{"g":"Ifngr1","s":"PD1 3","v":0.05},
{"g":"Ifngr1","s":"TRT 2","v":-1.3},{"g":"Ifngr1","s":"TRT 4","v":-1.3},{"g":"Ifngr1","s":"TRT 6","v":-1.1},{"g":"Ifngr1","s":"TRT 5","v":-0.2},{"g":"Ifngr1","s":"TRT 1","v":-0.6},{"g":"Ifngr1","s":"TRT 3","v":-1.05},{"g":"Ifngr1","s":"COM 1","v":-0.05},{"g":"Ifngr1","s":"COM 3","v":0.85},{"g":"Ifngr1","s":"COM 2","v":0.3},{"g":"Ifngr1","s":"COM 5","v":-0.45},{"g":"Ifngr1","s":"COM 6","v":2.0},{"g":"Ifngr1","s":"COM 4","v":2.0},
{"g":"Ifitm2","s":"VEH 5","v":0.45},{"g":"Ifitm2","s":"VEH 1","v":1.75},{"g":"Ifitm2","s":"VEH 3","v":0.3},{"g":"Ifitm2","s":"VEH 2","v":-0.05},{"g":"Ifitm2","s":"VEH 6","v":-0.1},{"g":"Ifitm2","s":"PD1 2","v":-1.55},{"g":"Ifitm2","s":"VEH 4","v":-0.4},{"g":"Ifitm2","s":"PD1 1","v":0.85},{"g":"Ifitm2","s":"PD1 4","v":0.65},{"g":"Ifitm2","s":"PD1 6","v":-0.95},{"g":"Ifitm2","s":"PD1 5","v":0.65},{"g":"Ifitm2","s":"PD1 3","v":1.05},
{"g":"Ifitm2","s":"TRT 2","v":-2.0},{"g":"Ifitm2","s":"TRT 4","v":-0.8},{"g":"Ifitm2","s":"TRT 6","v":-1.0},{"g":"Ifitm2","s":"TRT 5","v":-0.6},{"g":"Ifitm2","s":"TRT 1","v":-0.2},{"g":"Ifitm2","s":"TRT 3","v":0.45},{"g":"Ifitm2","s":"COM 1","v":-0.2},{"g":"Ifitm2","s":"COM 3","v":1.25},{"g":"Ifitm2","s":"COM 2","v":-0.3},{"g":"Ifitm2","s":"COM 5","v":-2.0},{"g":"Ifitm2","s":"COM 6","v":1.25},{"g":"Ifitm2","s":"COM 4","v":1.25},
{"g":"Ccr7","s":"VEH 5","v":-0.3},{"g":"Ccr7","s":"VEH 1","v":1.65},{"g":"Ccr7","s":"VEH 3","v":-0.45},{"g":"Ccr7","s":"VEH 2","v":0.6},{"g":"Ccr7","s":"VEH 6","v":0.6},{"g":"Ccr7","s":"PD1 2","v":-1.7},{"g":"Ccr7","s":"VEH 4","v":0.65},{"g":"Ccr7","s":"PD1 1","v":1.75},{"g":"Ccr7","s":"PD1 4","v":1.45},{"g":"Ccr7","s":"PD1 6","v":0.15},{"g":"Ccr7","s":"PD1 5","v":-0.45},{"g":"Ccr7","s":"PD1 3","v":1.05},
{"g":"Ccr7","s":"TRT 2","v":-0.95},{"g":"Ccr7","s":"TRT 4","v":-1.1},{"g":"Ccr7","s":"TRT 6","v":-1.7},{"g":"Ccr7","s":"TRT 5","v":-1.75},{"g":"Ccr7","s":"TRT 1","v":-0.05},{"g":"Ccr7","s":"TRT 3","v":-0.1},{"g":"Ccr7","s":"COM 1","v":0.15},{"g":"Ccr7","s":"COM 3","v":-0.2},{"g":"Ccr7","s":"COM 2","v":0.05},{"g":"Ccr7","s":"COM 5","v":-0.7},{"g":"Ccr7","s":"COM 6","v":1.2},{"g":"Ccr7","s":"COM 4","v":0.05},
{"g":"Ifi27","s":"VEH 5","v":-0.6},{"g":"Ifi27","s":"VEH 1","v":2.2},{"g":"Ifi27","s":"VEH 3","v":0.3},{"g":"Ifi27","s":"VEH 2","v":-0.95},{"g":"Ifi27","s":"VEH 6","v":0.75},{"g":"Ifi27","s":"PD1 2","v":-1.6},{"g":"Ifi27","s":"VEH 4","v":-0.8},{"g":"Ifi27","s":"PD1 1","v":1.25},{"g":"Ifi27","s":"PD1 4","v":-0.2},{"g":"Ifi27","s":"PD1 6","v":0.15},{"g":"Ifi27","s":"PD1 5","v":0.6},{"g":"Ifi27","s":"PD1 3","v":0.9},
{"g":"Ifi27","s":"TRT 2","v":0.15},{"g":"Ifi27","s":"TRT 4","v":-0.8},{"g":"Ifi27","s":"TRT 6","v":-1.0},{"g":"Ifi27","s":"TRT 5","v":0.6},{"g":"Ifi27","s":"TRT 1","v":0.6},{"g":"Ifi27","s":"TRT 3","v":0.25},{"g":"Ifi27","s":"COM 1","v":-0.2},{"g":"Ifi27","s":"COM 3","v":-0.45},{"g":"Ifi27","s":"COM 2","v":0.85},{"g":"Ifi27","s":"COM 5","v":-2.8},{"g":"Ifi27","s":"COM 6","v":-0.8},{"g":"Ifi27","s":"COM 4","v":0.6},
{"g":"Ifnar2","s":"VEH 5","v":-0.45},{"g":"Ifnar2","s":"VEH 1","v":1.05},{"g":"Ifnar2","s":"VEH 3","v":-1.85},{"g":"Ifnar2","s":"VEH 2","v":-0.6},{"g":"Ifnar2","s":"VEH 6","v":-0.95},{"g":"Ifnar2","s":"PD1 2","v":-0.45},{"g":"Ifnar2","s":"VEH 4","v":-0.1},{"g":"Ifnar2","s":"PD1 1","v":1.25},{"g":"Ifnar2","s":"PD1 4","v":1.55},{"g":"Ifnar2","s":"PD1 6","v":0.65},{"g":"Ifnar2","s":"PD1 5","v":1.8},{"g":"Ifnar2","s":"PD1 3","v":-0.45},
{"g":"Ifnar2","s":"TRT 2","v":-0.95},{"g":"Ifnar2","s":"TRT 4","v":-0.7},{"g":"Ifnar2","s":"TRT 6","v":-1.1},{"g":"Ifnar2","s":"TRT 5","v":0.6},{"g":"Ifnar2","s":"TRT 1","v":-1.3},{"g":"Ifnar2","s":"TRT 3","v":0.65},{"g":"Ifnar2","s":"COM 1","v":0.25},{"g":"Ifnar2","s":"COM 3","v":0.3},{"g":"Ifnar2","s":"COM 2","v":1.25},{"g":"Ifnar2","s":"COM 5","v":-1.55},{"g":"Ifnar2","s":"COM 6","v":0.3},{"g":"Ifnar2","s":"COM 4","v":0.6},
{"g":"Ifitm1","s":"VEH 5","v":-1.0},{"g":"Ifitm1","s":"VEH 1","v":0.85},{"g":"Ifitm1","s":"VEH 3","v":0.85},{"g":"Ifitm1","s":"VEH 2","v":-0.2},{"g":"Ifitm1","s":"VEH 6","v":-0.45},{"g":"Ifitm1","s":"PD1 2","v":-1.55},{"g":"Ifitm1","s":"VEH 4","v":-1.5},{"g":"Ifitm1","s":"PD1 1","v":0.5},{"g":"Ifitm1","s":"PD1 4","v":1.2},{"g":"Ifitm1","s":"PD1 6","v":-0.7},{"g":"Ifitm1","s":"PD1 5","v":1.8},{"g":"Ifitm1","s":"PD1 3","v":0.55},
{"g":"Ifitm1","s":"TRT 2","v":-1.45},{"g":"Ifitm1","s":"TRT 4","v":-0.2},{"g":"Ifitm1","s":"TRT 6","v":-0.45},{"g":"Ifitm1","s":"TRT 5","v":-0.8},{"g":"Ifitm1","s":"TRT 1","v":-0.8},{"g":"Ifitm1","s":"TRT 3","v":0.25},{"g":"Ifitm1","s":"COM 1","v":0.6},{"g":"Ifitm1","s":"COM 3","v":0.25},{"g":"Ifitm1","s":"COM 2","v":1.8},{"g":"Ifitm1","s":"COM 5","v":-0.8},{"g":"Ifitm1","s":"COM 6","v":-0.05},{"g":"Ifitm1","s":"COM 4","v":1.45},
{"g":"Nos2","s":"VEH 5","v":-0.95},{"g":"Nos2","s":"VEH 1","v":0.85},{"g":"Nos2","s":"VEH 3","v":0.25},{"g":"Nos2","s":"VEH 2","v":-0.8},{"g":"Nos2","s":"VEH 6","v":-0.45},{"g":"Nos2","s":"PD1 2","v":-0.8},{"g":"Nos2","s":"VEH 4","v":-1.05},{"g":"Nos2","s":"PD1 1","v":1.5},{"g":"Nos2","s":"PD1 4","v":0.85},{"g":"Nos2","s":"PD1 6","v":0.85},{"g":"Nos2","s":"PD1 5","v":1.5},{"g":"Nos2","s":"PD1 3","v":2.2},
{"g":"Nos2","s":"TRT 2","v":-1.3},{"g":"Nos2","s":"TRT 4","v":-1.1},{"g":"Nos2","s":"TRT 6","v":-0.45},{"g":"Nos2","s":"TRT 5","v":-0.95},{"g":"Nos2","s":"TRT 1","v":-0.8},{"g":"Nos2","s":"TRT 3","v":-0.1},{"g":"Nos2","s":"COM 1","v":0.65},{"g":"Nos2","s":"COM 3","v":1.05},{"g":"Nos2","s":"COM 2","v":0.9},{"g":"Nos2","s":"COM 5","v":-1.0},{"g":"Nos2","s":"COM 6","v":-0.8},{"g":"Nos2","s":"COM 4","v":-0.1}
],
"rowtree": [
{"a":2.5,"ha":0,"b":3.5,"hb":0,"h":4},
{"a":1.5,"ha":0,"b":3.0,"hb":4,"h":8},
{"a":4.5,"ha":0,"b":5.5,"hb":0,"h":3.3},
{"a":7.5,"ha":0,"b":8.5,"hb":0,"h":1},
{"a":6.5,"ha":0,"b":8.0,"hb":1,"h":5.7},
{"a":5.0,"ha":3.3,"b":7.25,"hb":5.7,"h":10},
{"a":2.25,"ha":8,"b":6.125,"hb":10,"h":12.3},
{"a":0.5,"ha":0,"b":4.1875,"hb":12.3,"h":28.3},
{"a":10.5,"ha":0,"b":11.5,"hb":0,"h":17.3},
{"a":9.5,"ha":0,"b":11.0,"hb":17.3,"h":30},
{"a":15.5,"ha":0,"b":16.5,"hb":0,"h":13.3},
{"a":17.5,"ha":0,"b":18.5,"hb":0,"h":7.7},
{"a":21.5,"ha":0,"b":22.5,"hb":0,"h":6},
{"a":20.5,"ha":0,"b":22.0,"hb":6,"h":13.3},
{"a":18.0,"ha":7.7,"b":21.25,"hb":13.3,"h":21},
{"a":19.5,"ha":0,"b":19.625,"hb":21,"h":21.7},
{"a":16.0,"ha":13.3,"b":19.5625,"hb":21.7,"h":30},
{"a":14.5,"ha":0,"b":17.78,"hb":30,"h":38.3},
{"a":13.5,"ha":0,"b":16.14,"hb":38.3,"h":52.7},
{"a":12.5,"ha":0,"b":14.82,"hb":52.7,"h":65},
{"a":10.25,"ha":30,"b":13.66,"hb":65,"h":75},
{"a":2.344,"ha":28.3,"b":11.955,"hb":75,"h":93.3},
{"a":25.5,"ha":0,"b":26.5,"hb":0,"h":10.7},
{"a":24.5,"ha":0,"b":26.0,"hb":10.7,"h":11.7},
{"a":23.5,"ha":0,"b":25.25,"hb":11.7,"h":24},
{"a":27.5,"ha":0,"b":28.5,"hb":0,"h":14},
{"a":29.5,"ha":0,"b":30.5,"hb":0,"h":34},
{"a":28.0,"ha":14,"b":30.0,"hb":34,"h":38.3},
{"a":33.5,"ha":0,"b":34.5,"hb":0,"h":28.3},
{"a":32.5,"ha":0,"b":34.0,"hb":28.3,"h":46.7},
{"a":31.5,"ha":0,"b":33.25,"hb":46.7,"h":58.3},
{"a":29.0,"ha":38.3,"b":32.375,"hb":58.3,"h":77.3},
{"a":24.375,"ha":24,"b":30.6875,"hb":77.3,"h":103.3},
{"a":7.15,"ha":93.3,"b":27.53,"hb":103.3,"h":156.7}
],
"coltree": [
{"a":0.5,"ha":0,"b":1.5,"hb":0,"h":24.3},
{"a":2.5,"ha":0,"b":3.5,"hb":0,"h":30.3},
{"a":3.0,"ha":30.3,"b":4.5,"hb":0,"h":34.7},
{"a":5.5,"ha":0,"b":6.5,"hb":0,"h":18.3},
{"a":6.0,"ha":18.3,"b":7.5,"hb":0,"h":34.7},
{"a":6.75,"ha":34.7,"b":8.5,"hb":0,"h":40.7},
{"a":3.75,"ha":34.7,"b":7.625,"hb":40.7,"h":60.7},
{"a":1.0,"ha":24.3,"b":5.6875,"hb":60.7,"h":75.3},
{"a":9.5,"ha":0,"b":10.5,"hb":0,"h":20.3},
{"a":10.0,"ha":20.3,"b":11.5,"hb":0,"h":57},
{"a":3.344,"ha":75.3,"b":10.75,"hb":57,"h":93.7},
{"a":14.5,"ha":0,"b":15.5,"hb":0,"h":12},
{"a":13.5,"ha":0,"b":15.0,"hb":12,"h":18.3},
{"a":12.5,"ha":0,"b":14.25,"hb":18.3,"h":32.7},
{"a":16.5,"ha":0,"b":17.5,"hb":0,"h":22},
{"a":13.375,"ha":32.7,"b":17.0,"hb":22,"h":47},
{"a":18.5,"ha":0,"b":19.5,"hb":0,"h":16.3},
{"a":19.0,"ha":16.3,"b":20.5,"hb":0,"h":42.7},
{"a":15.1875,"ha":47,"b":19.75,"hb":42.7,"h":69.3},
{"a":21.5,"ha":0,"b":22.5,"hb":0,"h":26},
{"a":22.0,"ha":26,"b":23.5,"hb":0,"h":54.7},
{"a":17.469,"ha":69.3,"b":22.75,"hb":54.7,"h":95.7},
{"a":7.047,"ha":93.7,"b":20.11,"hb":95.7,"h":116.7}
],
"notes": [
{"line":0,"t":"Several genes clustering","bullet":true},
{"line":1,"t":"together had increased","bullet":false},
{"line":2,"t":"levels in tumors treated","bullet":false},
{"line":3,"t":"with ¹⁷⁷Lu-FAP-2287 or","bullet":false},
{"line":4,"t":"combined with anti-PD-1","bullet":false},
{"line":5,"t":"including STING pathway","bullet":false},
{"line":6,"t":"inducible genes.","bullet":false},
{"line":7,"t":"Another gene subset","bullet":true},
{"line":8,"t":"showed higher expression","bullet":false},
{"line":9,"t":"in combination treated","bullet":false},
{"line":10,"t":"tumors than with either","bullet":false},
{"line":11,"t":"monotherapy.","bullet":false},
{"line":12,"t":"The last gene subgroup","bullet":true},
{"line":13,"t":"appeared to be more","bullet":false},
{"line":14,"t":"involved with anti-PD-1","bullet":false},
{"line":15,"t":"efficacy than with ¹⁷⁷Lu-","bullet":false},
{"line":16,"t":"FAP-2287 treatment.","bullet":false}
]
},
"hconcat": [
{
  "width": 3, "height": 1790,
  "data": {"values": [{"k": 1}]},
  "mark": {"type": "rect", "color": "#2F4B8F"},
  "encoding": {}
},
{
  "width": 244, "height": 1556,
  "data": {"name": "rowtree"},
  "layer": [
    {"mark": {"type": "rule", "color": "#000000", "strokeWidth": 2.2},
     "encoding": {"x": {"field": "ha", "type": "quantitative", "scale": {"domain": [0, 244], "reverse": true}, "axis": null}, "x2": {"field": "h"},
                  "y": {"field": "a", "type": "quantitative", "scale": {"domain": [0, 9, 9.0001, 23, 23.0001, 35], "range": [157.8, 513.3, 521.3, 1074.3, 1082.3, 1556.3]}, "axis": null}}},
    {"mark": {"type": "rule", "color": "#000000", "strokeWidth": 2.2},
     "encoding": {"x": {"field": "hb", "type": "quantitative", "scale": {"domain": [0, 244], "reverse": true}, "axis": null}, "x2": {"field": "h"},
                  "y": {"field": "b", "type": "quantitative", "scale": {"domain": [0, 9, 9.0001, 23, 23.0001, 35], "range": [157.8, 513.3, 521.3, 1074.3, 1082.3, 1556.3]}, "axis": null}}},
    {"mark": {"type": "rule", "color": "#000000", "strokeWidth": 2.2},
     "encoding": {"x": {"field": "h", "type": "quantitative", "scale": {"domain": [0, 244], "reverse": true}, "axis": null},
                  "y": {"field": "a", "type": "quantitative", "scale": {"domain": [0, 9, 9.0001, 23, 23.0001, 35], "range": [157.8, 513.3, 521.3, 1074.3, 1082.3, 1556.3]}, "axis": null}, "y2": {"field": "b"}}}
  ]
},
{
  "spacing": 176.5,
  "hconcat": [
    {
      "spacing": 0,
      "vconcat": [
        {
          "width": 1281, "height": 157,
          "data": {"name": "coltree"},
          "layer": [
            {"mark": {"type": "rule", "color": "#000000", "strokeWidth": 2.2},
             "encoding": {"x": {"field": "a", "type": "quantitative", "scale": {"domain": [0, 12, 12.0001, 24], "range": [0, 636, 645, 1281]}, "axis": null}, "x2": {"field": "b"},
                          "y": {"field": "h", "type": "quantitative", "scale": {"domain": [-1.2, 157]}, "axis": null}}},
            {"mark": {"type": "rule", "color": "#000000", "strokeWidth": 2.2},
             "encoding": {"x": {"field": "a", "type": "quantitative", "scale": {"domain": [0, 12, 12.0001, 24], "range": [0, 636, 645, 1281]}, "axis": null},
                          "y": {"field": "ha", "type": "quantitative", "scale": {"domain": [-1.2, 157]}, "axis": null}, "y2": {"field": "h"}}},
            {"mark": {"type": "rule", "color": "#000000", "strokeWidth": 2.2},
             "encoding": {"x": {"field": "b", "type": "quantitative", "scale": {"domain": [0, 12, 12.0001, 24], "range": [0, 636, 645, 1281]}, "axis": null},
                          "y": {"field": "hb", "type": "quantitative", "scale": {"domain": [-1.2, 157]}, "axis": null}, "y2": {"field": "h"}}}
          ]
        },
        {
          "spacing": 6.4,
          "data": {"name": "cells"},
          "vconcat": [
            {
              "spacing": 7.4,
              "hconcat": [
                {"width": 636, "height": 355.5,
                 "transform": [{"filter": {"field": "g", "oneOf": ["Ccl5","Ifi35","Ddx58","Ifi44","Ifih1","Ifit2","Irf7","Ifit1","Ifit3"]}}, {"filter": {"field": "s", "oneOf": ["VEH 5","VEH 1","VEH 3","VEH 2","VEH 6","PD1 2","VEH 4","PD1 1","PD1 4","PD1 6","PD1 5","PD1 3"]}}],
                 "mark": {"type": "rect", "stroke": "#A0A0A0", "strokeWidth": 1.6},
                 "encoding": {
                   "x": {"field": "s", "type": "nominal", "sort": ["VEH 5","VEH 1","VEH 3","VEH 2","VEH 6","PD1 2","VEH 4","PD1 1","PD1 4","PD1 6","PD1 5","PD1 3"], "axis": null},
                   "y": {"field": "g", "type": "nominal", "sort": ["Ccl5","Ifi35","Ddx58","Ifi44","Ifih1","Ifit2","Irf7","Ifit1","Ifit3"], "axis": null},
                   "color": {"field": "v", "type": "quantitative", "scale": {"domain": [-2.92, -1.9517, -0.9833, -0.015, 0.9533, 1.9217, 2.89], "range": ["#2166ac","#67a9cf","#d1e5f0","#f7f7f7","#fddbc7","#ef8a62","#b2182b"], "interpolate": "rgb"}, "legend": {"title": null, "values": [-2, -1, 0, 1, 2], "labelExpr": "datum.value + ''"}}
                 }},
                {"width": 636, "height": 355.5,
                 "transform": [{"filter": {"field": "g", "oneOf": ["Ccl5","Ifi35","Ddx58","Ifi44","Ifih1","Ifit2","Irf7","Ifit1","Ifit3"]}}, {"filter": {"field": "s", "oneOf": ["TRT 2","TRT 4","TRT 6","TRT 5","TRT 1","TRT 3","COM 1","COM 3","COM 2","COM 5","COM 6","COM 4"]}}],
                 "mark": {"type": "rect", "stroke": "#A0A0A0", "strokeWidth": 1.6},
                 "encoding": {
                   "x": {"field": "s", "type": "nominal", "sort": ["TRT 2","TRT 4","TRT 6","TRT 5","TRT 1","TRT 3","COM 1","COM 3","COM 2","COM 5","COM 6","COM 4"], "axis": null},
                   "y": {"field": "g", "type": "nominal", "sort": ["Ccl5","Ifi35","Ddx58","Ifi44","Ifih1","Ifit2","Irf7","Ifit1","Ifit3"], "axis": {"orient": "right", "labelPadding": 10, "labelFontSize": 29, "title": null}},
                   "color": {"field": "v", "type": "quantitative", "scale": {"domain": [-2.92, -1.9517, -0.9833, -0.015, 0.9533, 1.9217, 2.89], "range": ["#2166ac","#67a9cf","#d1e5f0","#f7f7f7","#fddbc7","#ef8a62","#b2182b"], "interpolate": "rgb"}, "legend": {"title": null, "values": [-2, -1, 0, 1, 2], "labelExpr": "datum.value + ''"}}
                 }}
              ]
            },
            {
              "spacing": 7.4,
              "hconcat": [
                {"width": 636, "height": 553,
                 "transform": [{"filter": {"field": "g", "oneOf": ["Fadd","Cd3e","Mavs","Runx3","Ulbp1","Tmem173","Eomes","Il12rb2","Gbp5","Irgm2","Tbk1","Ifng","Irf8","Nlrc5"]}}, {"filter": {"field": "s", "oneOf": ["VEH 5","VEH 1","VEH 3","VEH 2","VEH 6","PD1 2","VEH 4","PD1 1","PD1 4","PD1 6","PD1 5","PD1 3"]}}],
                 "mark": {"type": "rect", "stroke": "#A0A0A0", "strokeWidth": 1.6},
                 "encoding": {
                   "x": {"field": "s", "type": "nominal", "sort": ["VEH 5","VEH 1","VEH 3","VEH 2","VEH 6","PD1 2","VEH 4","PD1 1","PD1 4","PD1 6","PD1 5","PD1 3"], "axis": null},
                   "y": {"field": "g", "type": "nominal", "sort": ["Fadd","Cd3e","Mavs","Runx3","Ulbp1","Tmem173","Eomes","Il12rb2","Gbp5","Irgm2","Tbk1","Ifng","Irf8","Nlrc5"], "axis": null},
                   "color": {"field": "v", "type": "quantitative", "scale": {"domain": [-2.92, -1.9517, -0.9833, -0.015, 0.9533, 1.9217, 2.89], "range": ["#2166ac","#67a9cf","#d1e5f0","#f7f7f7","#fddbc7","#ef8a62","#b2182b"], "interpolate": "rgb"}, "legend": {"title": null, "values": [-2, -1, 0, 1, 2], "labelExpr": "datum.value + ''"}}
                 }},
                {"width": 636, "height": 553,
                 "transform": [{"filter": {"field": "g", "oneOf": ["Fadd","Cd3e","Mavs","Runx3","Ulbp1","Tmem173","Eomes","Il12rb2","Gbp5","Irgm2","Tbk1","Ifng","Irf8","Nlrc5"]}}, {"filter": {"field": "s", "oneOf": ["TRT 2","TRT 4","TRT 6","TRT 5","TRT 1","TRT 3","COM 1","COM 3","COM 2","COM 5","COM 6","COM 4"]}}],
                 "mark": {"type": "rect", "stroke": "#A0A0A0", "strokeWidth": 1.6},
                 "encoding": {
                   "x": {"field": "s", "type": "nominal", "sort": ["TRT 2","TRT 4","TRT 6","TRT 5","TRT 1","TRT 3","COM 1","COM 3","COM 2","COM 5","COM 6","COM 4"], "axis": null},
                   "y": {"field": "g", "type": "nominal", "sort": ["Fadd","Cd3e","Mavs","Runx3","Ulbp1","Tmem173","Eomes","Il12rb2","Gbp5","Irgm2","Tbk1","Ifng","Irf8","Nlrc5"], "axis": {"orient": "right", "labelPadding": 10, "labelFontSize": 29, "title": null}},
                   "color": {"field": "v", "type": "quantitative", "scale": {"domain": [-2.92, -1.9517, -0.9833, -0.015, 0.9533, 1.9217, 2.89], "range": ["#2166ac","#67a9cf","#d1e5f0","#f7f7f7","#fddbc7","#ef8a62","#b2182b"], "interpolate": "rgb"}, "legend": {"title": null, "values": [-2, -1, 0, 1, 2], "labelExpr": "datum.value + ''"}}
                 }}
              ]
            },
            {
              "spacing": 7.4,
              "hconcat": [
                {"width": 636, "height": 474,
                 "transform": [{"filter": {"field": "g", "oneOf": ["Cxcl16","Ciita","H2-Aa","H2-Ab1","Ifnar1","Ifngr1","Ifitm2","Ccr7","Ifi27","Ifnar2","Ifitm1","Nos2"]}}, {"filter": {"field": "s", "oneOf": ["VEH 5","VEH 1","VEH 3","VEH 2","VEH 6","PD1 2","VEH 4","PD1 1","PD1 4","PD1 6","PD1 5","PD1 3"]}}],
                 "mark": {"type": "rect", "stroke": "#A0A0A0", "strokeWidth": 1.6},
                 "encoding": {
                   "x": {"field": "s", "type": "nominal", "sort": ["VEH 5","VEH 1","VEH 3","VEH 2","VEH 6","PD1 2","VEH 4","PD1 1","PD1 4","PD1 6","PD1 5","PD1 3"], "axis": {"orient": "bottom", "labelAngle": 90, "labelAlign": "left", "labelBaseline": "middle", "labelPadding": 12, "labelFontSize": 28, "title": null}},
                   "y": {"field": "g", "type": "nominal", "sort": ["Cxcl16","Ciita","H2-Aa","H2-Ab1","Ifnar1","Ifngr1","Ifitm2","Ccr7","Ifi27","Ifnar2","Ifitm1","Nos2"], "axis": null},
                   "color": {"field": "v", "type": "quantitative", "scale": {"domain": [-2.92, -1.9517, -0.9833, -0.015, 0.9533, 1.9217, 2.89], "range": ["#2166ac","#67a9cf","#d1e5f0","#f7f7f7","#fddbc7","#ef8a62","#b2182b"], "interpolate": "rgb"}, "legend": {"title": null, "values": [-2, -1, 0, 1, 2], "labelExpr": "datum.value + ''"}}
                 }},
                {"width": 636, "height": 474,
                 "transform": [{"filter": {"field": "g", "oneOf": ["Cxcl16","Ciita","H2-Aa","H2-Ab1","Ifnar1","Ifngr1","Ifitm2","Ccr7","Ifi27","Ifnar2","Ifitm1","Nos2"]}}, {"filter": {"field": "s", "oneOf": ["TRT 2","TRT 4","TRT 6","TRT 5","TRT 1","TRT 3","COM 1","COM 3","COM 2","COM 5","COM 6","COM 4"]}}],
                 "mark": {"type": "rect", "stroke": "#A0A0A0", "strokeWidth": 1.6},
                 "encoding": {
                   "x": {"field": "s", "type": "nominal", "sort": ["TRT 2","TRT 4","TRT 6","TRT 5","TRT 1","TRT 3","COM 1","COM 3","COM 2","COM 5","COM 6","COM 4"], "axis": {"orient": "bottom", "labelAngle": 90, "labelAlign": "left", "labelBaseline": "middle", "labelPadding": 12, "labelFontSize": 28, "title": null}},
                   "y": {"field": "g", "type": "nominal", "sort": ["Cxcl16","Ciita","H2-Aa","H2-Ab1","Ifnar1","Ifngr1","Ifitm2","Ccr7","Ifi27","Ifnar2","Ifitm1","Nos2"], "axis": {"orient": "right", "labelPadding": 10, "labelFontSize": 29, "title": null}},
                   "color": {"field": "v", "type": "quantitative", "scale": {"domain": [-2.92, -1.9517, -0.9833, -0.015, 0.9533, 1.9217, 2.89], "range": ["#2166ac","#67a9cf","#d1e5f0","#f7f7f7","#fddbc7","#ef8a62","#b2182b"], "interpolate": "rgb"}, "legend": {"title": null, "values": [-2, -1, 0, 1, 2], "labelExpr": "datum.value + ''"}}
                 }}
              ]
            }
          ]
        }
      ]
    },
    {
      "width": 800, "height": 1790,
      "data": {"name": "notes"},
      "layer": [
        {"mark": {"type": "text", "align": "left", "baseline": "alphabetic", "fontSize": 61.5, "font": "Liberation Sans", "color": "#000000", "dx": 58},
         "encoding": {"x": {"datum": 0, "type": "quantitative", "scale": {"domain": [0, 1]}, "axis": null},
                      "y": {"field": "line", "type": "quantitative", "scale": {"domain": [0, 16], "range": [286, 1500]}, "axis": null},
                      "text": {"field": "t"}}},
        {"transform": [{"filter": "datum.bullet"}],
         "mark": {"type": "text", "align": "left", "baseline": "alphabetic", "fontSize": 61.5, "font": "Liberation Sans", "color": "#2F4A8A"},
         "encoding": {"x": {"datum": 0, "type": "quantitative", "scale": {"domain": [0, 1]}, "axis": null},
                      "y": {"field": "line", "type": "quantitative", "scale": {"domain": [0, 16], "range": [286, 1500]}, "axis": null},
                      "text": {"value": "•"}}}
      ]
    }
  ]
}
]
}
